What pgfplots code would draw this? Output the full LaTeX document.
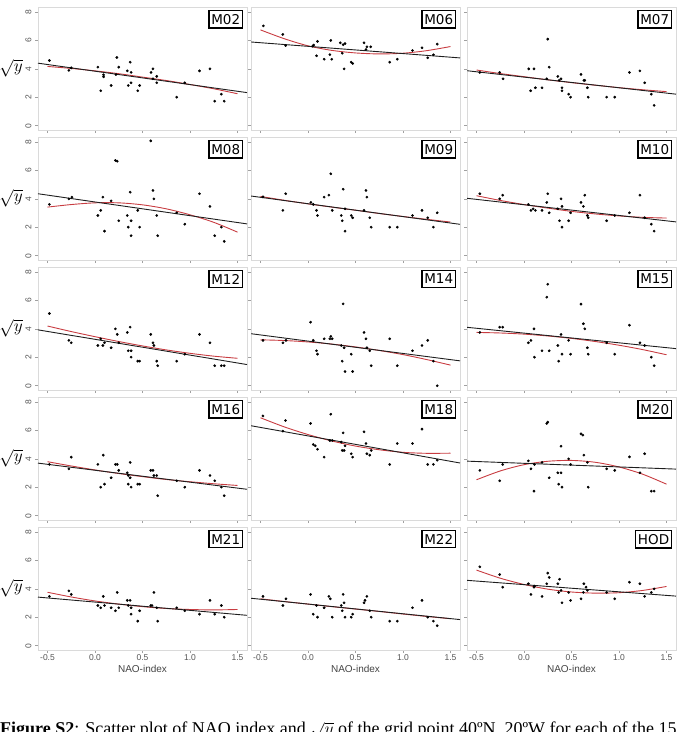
\documentclass[border=0pt]{standalone}
\usepackage{fontspec}
\setmainfont{Liberation Sans}
\newfontfamily\boxfont{DejaVu Sans}
\newfontfamily\capfont{Liberation Serif}
\usepackage{pgfplots}
\pgfplotsset{compat=1.18}

\definecolor{framegray}{RGB}{218,218,218}
\definecolor{tickgray}{RGB}{160,160,160}
\definecolor{labgray}{RGB}{85,85,85}
\definecolor{fitred}{RGB}{200,60,65}
\definecolor{fitblack}{RGB}{30,30,30}

\pgfplotsset{
  panel/.style={
    scale only axis, width=209pt, height=123pt,
    anchor=north west,
    xmin=-0.6, xmax=1.6, ymin=-0.3, ymax=8.35,
    axis line style={framegray, line width=0.8pt},
    xtick={-0.5,0,0.5,1,1.5}, ytick={0,2,4,6,8},
    xticklabels={}, yticklabels={},
    tick pos=left, tick align=outside,
    major tick length=3pt,
    tick style={tickgray, line width=0.6pt},
    /pgf/number format/assume math mode=true,
  },
  leftcol/.style={
    yticklabels={0,2,4,6,8},
    yticklabel style={rotate=90, anchor=south, text=labgray,
      font=\fontsize{8.5}{9}\selectfont},
    ylabel={$\sqrt{y}$},
    every axis y label/.style={at={(axis description cs:0,0.5)},
      anchor=center, xshift=-27pt, font=\fontsize{17}{19}\selectfont},
  },
  bottomrow/.style={
    xticklabels={-0.5,0.0,0.5,1.0,1.5},
    xticklabel style={text=labgray, inner sep=1pt,
      font=\fontsize{8.5}{9}\selectfont},
    xlabel={NAO-index},
    every axis x label/.style={at={(axis description cs:0.5,0)},
      anchor=center, yshift=-18.5pt, text=labgray!80!black,
      font=\fontsize{10}{12}\selectfont},
  },
  linfit/.style={fitblack, line width=0.9pt, no marks},
  quadfit/.style={fitred, line width=0.9pt, no marks, smooth},
  dots/.style={only marks, mark=*, mark size=1.15pt, black},
}
\tikzset{
  plab/.style={draw=black, line width=1.1pt, fill=white, inner xsep=2.3pt,
    inner ysep=3.6pt, anchor=north east, xshift=-4pt, yshift=-3pt,
    font=\boxfont\fontsize{13.5}{14}\selectfont},
}

\begin{document}
\begin{tikzpicture}

% ---------------- row 1 ----------------
\begin{axis}[panel, leftcol, at={(38pt,-7pt)}]
  \addplot[dots] coordinates {(-0.48,4.59) (-0.275,3.89) (-0.25,4.07) (0.03,4.12) (0.06,2.46) (0.09,3.58) (0.09,3.44) (0.17,2.83) (0.22,3.60) (0.23,4.80) (0.25,4.12) (0.34,3.86) (0.35,2.83) (0.37,4.47) (0.38,3.75) (0.38,3.02) (0.45,2.46) (0.47,2.83) (0.59,3.75) (0.61,4.00) (0.61,3.30) (0.65,3.47) (0.65,3.02) (0.86,2.01) (0.945,3.02) (1.10,3.86) (1.21,4.00) (1.26,1.73) (1.33,2.22) (1.36,1.73)};
  \addplot[quadfit] coordinates {(-0.5,4.17) (-0.25,4.03) (0,3.86) (0.25,3.66) (0.5,3.42) (0.75,3.18) (1.0,2.90) (1.25,2.60) (1.5,2.25)};
  \addplot[linfit] coordinates {(-0.6,4.40) (1.6,2.33)};
  \node[plab] at (rel axis cs:1,1) {M02};
\end{axis}

\begin{axis}[panel, at={(251pt,-7pt)}]
  \addplot[dots] coordinates {(-0.47,7.02) (-0.265,6.42) (-0.235,5.64) (0.05,5.60) (0.06,5.67) (0.10,5.93) (0.09,4.92) (0.17,4.68) (0.23,5.00) (0.24,6.00) (0.25,4.68) (0.34,5.83) (0.36,5.10) (0.37,5.70) (0.39,5.78) (0.38,4.00) (0.455,4.47) (0.47,4.38) (0.59,5.83) (0.61,5.36) (0.62,5.55) (0.66,5.55) (0.86,4.47) (0.94,4.68) (1.10,5.29) (1.20,5.48) (1.26,4.78) (1.32,4.99) (1.36,5.74)};
  \addplot[quadfit] coordinates {(-0.5,6.74) (-0.25,6.12) (0,5.62) (0.25,5.30) (0.5,5.12) (0.75,5.05) (1.0,5.10) (1.25,5.28) (1.5,5.57)};
  \addplot[linfit] coordinates {(-0.6,5.89) (1.6,4.77)};
  \node[plab] at (rel axis cs:1,1) {M06};
\end{axis}

\begin{axis}[panel, at={(467pt,-7pt)}]
  \addplot[dots] coordinates {(-0.465,3.75) (-0.256,3.75) (-0.22,3.30) (0.05,4.00) (0.07,2.46) (0.105,4.00) (0.12,2.67) (0.19,2.67) (0.24,3.30) (0.25,6.09) (0.265,4.12) (0.356,3.47) (0.37,3.19) (0.39,3.30) (0.40,2.67) (0.40,2.46) (0.47,2.22) (0.49,2.01) (0.60,3.61) (0.63,3.19) (0.64,3.19) (0.667,2.67) (0.676,2.01) (0.87,2.01) (0.955,2.01) (1.11,3.75) (1.22,3.86) (1.27,3.02) (1.34,2.22) (1.37,1.43)};
  \addplot[quadfit] coordinates {(-0.5,3.92) (-0.25,3.67) (0,3.45) (0.25,3.23) (0.5,3.03) (0.75,2.85) (1.0,2.68) (1.25,2.53) (1.5,2.40)};
  \addplot[linfit] coordinates {(-0.6,3.87) (1.6,2.22)};
  \node[plab] at (rel axis cs:1,1) {M07};
\end{axis}

% ---------------- row 2 ----------------
\begin{axis}[panel, leftcol, at={(38pt,-137pt)}]
  \addplot[dots] coordinates {(-0.48,3.61) (-0.275,4.00) (-0.243,4.12) (0.03,2.83) (0.06,3.19) (0.083,4.12) (0.10,1.73) (0.17,3.86) (0.215,6.70) (0.234,6.65) (0.25,2.46) (0.34,2.83) (0.35,2.01) (0.37,4.47) (0.38,2.46) (0.38,1.41) (0.45,3.19) (0.47,2.01) (0.587,8.08) (0.61,4.59) (0.62,4.00) (0.65,2.83) (0.66,1.41) (0.86,3.02) (0.945,2.22) (1.10,4.36) (1.21,3.47) (1.26,1.41) (1.33,2.01) (1.36,1.01)};
  \addplot[quadfit] coordinates {(-0.5,3.42) (-0.25,3.60) (0,3.72) (0.25,3.72) (0.5,3.58) (0.75,3.30) (1.0,2.88) (1.25,2.35) (1.5,1.66)};
  \addplot[linfit] coordinates {(-0.6,4.36) (1.6,2.24)};
  \node[plab] at (rel axis cs:1,1) {M08};
\end{axis}

\begin{axis}[panel, at={(251pt,-137pt)}]
  \addplot[dots] coordinates {(-0.474,4.14) (-0.264,3.19) (-0.235,4.36) (0.03,3.75) (0.055,3.61) (0.09,3.19) (0.10,2.83) (0.17,4.12) (0.22,4.26) (0.24,5.76) (0.255,3.19) (0.35,2.83) (0.36,2.46) (0.37,4.68) (0.39,1.73) (0.39,3.30) (0.455,2.83) (0.47,2.67) (0.59,3.19) (0.61,4.59) (0.62,4.12) (0.65,2.67) (0.665,2.01) (0.86,2.01) (0.94,2.01) (1.10,2.83) (1.20,3.19) (1.26,2.67) (1.32,2.01) (1.36,3.02)};
  \addplot[quadfit] coordinates {(-0.5,4.17) (-0.25,3.90) (0,3.65) (0.25,3.42) (0.5,3.20) (0.75,2.97) (1.0,2.76) (1.25,2.56) (1.5,2.37)};
  \addplot[linfit] coordinates {(-0.6,4.20) (1.6,2.21)};
  \node[plab] at (rel axis cs:1,1) {M09};
\end{axis}

\begin{axis}[panel, at={(467pt,-137pt)}]
  \addplot[dots] coordinates {(-0.465,4.36) (-0.256,4.00) (-0.224,4.26) (0.046,3.61) (0.073,3.19) (0.096,3.30) (0.12,3.19) (0.19,3.19) (0.24,3.75) (0.25,4.36) (0.265,3.02) (0.356,3.30) (0.374,2.46) (0.39,4.00) (0.40,3.47) (0.40,2.01) (0.47,2.46) (0.49,3.02) (0.60,3.75) (0.625,3.47) (0.64,4.26) (0.667,2.83) (0.676,2.67) (0.87,2.46) (0.955,2.83) (1.11,3.02) (1.22,4.26) (1.27,2.67) (1.34,2.22) (1.37,1.73)};
  \addplot[quadfit] coordinates {(-0.5,4.22) (-0.25,3.89) (0,3.60) (0.25,3.35) (0.5,3.12) (0.75,2.94) (1.0,2.80) (1.25,2.70) (1.5,2.65)};
  \addplot[linfit] coordinates {(-0.6,4.04) (1.6,2.38)};
  \node[plab] at (rel axis cs:1,1) {M10};
\end{axis}

% ---------------- row 3 ----------------
\begin{axis}[panel, leftcol, at={(38pt,-267pt)}]
  \addplot[dots] coordinates {(-0.48,5.08) (-0.275,3.19) (-0.25,3.02) (0.03,2.83) (0.06,3.30) (0.083,2.83) (0.10,3.02) (0.17,2.67) (0.215,4.00) (0.234,3.61) (0.25,3.02) (0.34,3.75) (0.35,2.46) (0.37,4.12) (0.38,2.46) (0.38,2.01) (0.45,1.73) (0.47,1.73) (0.587,3.61) (0.61,3.02) (0.62,2.83) (0.65,1.73) (0.66,1.41) (0.86,1.73) (0.945,2.22) (1.10,3.61) (1.21,3.02) (1.26,1.41) (1.33,1.41) (1.36,1.41)};
  \addplot[quadfit] coordinates {(-0.5,4.20) (-0.25,3.81) (0,3.45) (0.25,3.11) (0.5,2.80) (0.75,2.52) (1.0,2.28) (1.25,2.08) (1.5,1.93)};
  \addplot[linfit] coordinates {(-0.6,3.93) (1.6,1.49)};
  \node[plab] at (rel axis cs:1,1) {M12};
\end{axis}

\begin{axis}[panel, at={(251pt,-267pt)}]
  \addplot[dots] coordinates {(-0.474,3.19) (-0.264,3.02) (-0.232,3.19) (0.027,4.47) (0.055,3.19) (0.09,2.46) (0.10,2.22) (0.17,3.30) (0.23,3.30) (0.24,3.47) (0.255,3.30) (0.35,2.83) (0.36,1.73) (0.37,5.76) (0.38,2.67) (0.39,1.00) (0.455,2.22) (0.47,1.00) (0.59,3.75) (0.61,3.30) (0.62,2.67) (0.65,2.46) (0.665,1.41) (0.86,3.30) (0.94,1.41) (1.10,2.46) (1.20,2.83) (1.26,3.19) (1.32,1.73) (1.36,0.00)};
  \addplot[quadfit] coordinates {(-0.5,3.23) (-0.25,3.18) (0,3.08) (0.25,2.93) (0.5,2.73) (0.75,2.48) (1.0,2.19) (1.25,1.84) (1.5,1.45)};
  \addplot[linfit] coordinates {(-0.6,3.66) (1.6,1.75)};
  \node[plab] at (rel axis cs:1,1) {M14};
\end{axis}

\begin{axis}[panel, at={(467pt,-267pt)}]
  \addplot[dots] coordinates {(-0.465,3.75) (-0.256,4.12) (-0.224,4.12) (0.046,3.02) (0.073,3.19) (0.105,4.00) (0.11,2.01) (0.19,2.46) (0.24,6.23) (0.25,7.14) (0.265,2.46) (0.356,2.83) (0.365,1.73) (0.39,3.61) (0.40,2.22) (0.47,3.19) (0.49,2.22) (0.60,5.74) (0.625,4.36) (0.64,4.00) (0.667,2.67) (0.676,2.22) (0.87,3.02) (0.955,2.22) (1.11,4.26) (1.22,3.02) (1.27,2.83) (1.34,2.01) (1.37,1.41)};
  \addplot[quadfit] coordinates {(-0.5,3.75) (-0.25,3.71) (0,3.63) (0.25,3.50) (0.5,3.33) (0.75,3.11) (1.0,2.85) (1.25,2.54) (1.5,2.18)};
  \addplot[linfit] coordinates {(-0.6,4.11) (1.6,2.61)};
  \node[plab] at (rel axis cs:1,1) {M15};
\end{axis}

% ---------------- row 4 ----------------
\begin{axis}[panel, leftcol, at={(38pt,-397pt)}]
  \addplot[dots] coordinates {(-0.48,3.61) (-0.275,3.30) (-0.25,4.12) (0.03,3.61) (0.06,2.01) (0.087,4.26) (0.10,2.22) (0.17,2.67) (0.215,3.61) (0.234,3.61) (0.25,3.19) (0.34,3.02) (0.35,2.83) (0.35,2.22) (0.37,3.75) (0.37,2.67) (0.38,2.01) (0.45,2.22) (0.47,2.22) (0.587,3.19) (0.61,3.19) (0.62,2.83) (0.65,2.83) (0.66,1.41) (0.86,2.46) (0.945,2.01) (1.10,3.19) (1.21,2.83) (1.26,2.46) (1.33,2.01) (1.36,1.41)};
  \addplot[quadfit] coordinates {(-0.5,3.80) (-0.25,3.50) (0,3.22) (0.25,2.97) (0.5,2.75) (0.75,2.55) (1.0,2.39) (1.25,2.25) (1.5,2.13)};
  \addplot[linfit] coordinates {(-0.6,3.70) (1.6,1.86)};
  \node[plab] at (rel axis cs:1,1) {M16};
\end{axis}

\begin{axis}[panel, at={(251pt,-397pt)}]
  \addplot[dots] coordinates {(-0.474,7.02) (-0.264,5.95) (-0.237,6.70) (0.027,6.49) (0.055,5.01) (0.077,4.92) (0.10,4.68) (0.17,4.12) (0.23,5.29) (0.24,7.14) (0.255,5.29) (0.35,5.18) (0.36,4.59) (0.37,5.83) (0.38,4.59) (0.39,4.92) (0.455,4.36) (0.47,4.12) (0.59,5.90) (0.61,5.08) (0.62,4.36) (0.65,4.26) (0.665,4.59) (0.86,3.61) (0.94,5.08) (1.10,5.08) (1.20,6.09) (1.26,3.61) (1.32,3.61) (1.36,3.91)};
  \addplot[quadfit] coordinates {(-0.5,6.89) (-0.25,6.25) (0,5.71) (0.25,5.26) (0.5,4.90) (0.75,4.64) (1.0,4.46) (1.25,4.39) (1.5,4.40)};
  \addplot[linfit] coordinates {(-0.6,6.33) (1.6,3.71)};
  \node[plab] at (rel axis cs:1,1) {M18};
\end{axis}

\begin{axis}[panel, at={(467pt,-397pt)}]
  \addplot[dots] coordinates {(-0.465,3.19) (-0.256,2.46) (-0.224,3.61) (0.046,3.86) (0.073,3.30) (0.105,1.73) (0.11,3.61) (0.19,3.75) (0.24,6.49) (0.25,6.58) (0.265,2.67) (0.356,3.02) (0.365,2.22) (0.39,4.89) (0.39,3.02) (0.40,2.01) (0.47,4.00) (0.49,3.61) (0.60,5.76) (0.62,5.67) (0.63,4.26) (0.667,3.75) (0.676,2.01) (0.87,3.30) (0.955,3.19) (1.11,4.14) (1.22,3.02) (1.27,4.36) (1.34,1.73) (1.37,1.73)};
  \addplot[quadfit] coordinates {(-0.5,2.53) (-0.25,3.15) (0,3.59) (0.25,3.83) (0.5,3.89) (0.75,3.76) (1.0,3.43) (1.25,2.92) (1.5,2.22)};
  \addplot[linfit] coordinates {(-0.6,3.84) (1.6,3.28)};
  \node[plab] at (rel axis cs:1,1) {M20};
\end{axis}

% ---------------- row 5 ----------------
\begin{axis}[panel, leftcol, bottomrow, at={(38pt,-527pt)}]
  \addplot[dots] coordinates {(-0.48,3.47) (-0.275,3.86) (-0.25,3.61) (0.03,2.83) (0.06,2.67) (0.087,3.47) (0.10,2.83) (0.17,2.67) (0.215,2.46) (0.234,3.75) (0.25,2.67) (0.34,3.19) (0.35,2.83) (0.37,3.19) (0.38,2.67) (0.38,2.22) (0.45,1.73) (0.47,2.46) (0.587,2.83) (0.60,2.83) (0.62,3.75) (0.65,2.67) (0.66,1.73) (0.86,2.67) (0.945,2.46) (1.10,2.22) (1.21,3.19) (1.26,2.22) (1.33,2.83) (1.36,2.01)};
  \addplot[quadfit] coordinates {(-0.5,3.76) (-0.25,3.43) (0,3.15) (0.25,2.93) (0.5,2.75) (0.75,2.62) (1.0,2.55) (1.25,2.52) (1.5,2.55)};
  \addplot[linfit] coordinates {(-0.6,3.42) (1.6,2.14)};
  \node[plab] at (rel axis cs:1,1) {M21};
\end{axis}

\begin{axis}[panel, bottomrow, at={(251pt,-527pt)}]
  \addplot[dots] coordinates {(-0.474,3.47) (-0.264,2.83) (-0.232,3.30) (0.027,3.61) (0.055,2.22) (0.09,2.83) (0.10,2.01) (0.17,2.67) (0.22,3.47) (0.235,3.30) (0.255,2.01) (0.35,2.83) (0.36,2.46) (0.37,3.61) (0.38,3.02) (0.39,2.01) (0.455,2.01) (0.47,2.22) (0.59,3.02) (0.60,3.19) (0.62,3.47) (0.65,2.46) (0.665,2.01) (0.86,1.73) (0.94,1.73) (1.10,2.67) (1.20,3.19) (1.26,2.01) (1.32,1.73) (1.36,1.41)};
  \addplot[quadfit] coordinates {(-0.5,3.30) (-0.25,3.11) (0,2.93) (0.25,2.75) (0.5,2.58) (0.75,2.41) (1.0,2.23) (1.25,2.06) (1.5,1.90)};
  \addplot[linfit] coordinates {(-0.6,3.34) (1.6,1.84)};
  \node[plab] at (rel axis cs:1,1) {M22};
\end{axis}

\begin{axis}[panel, bottomrow, at={(467pt,-527pt)}]
  \addplot[dots] coordinates {(-0.465,5.55) (-0.256,5.01) (-0.224,4.12) (0.046,4.36) (0.073,3.61) (0.105,4.12) (0.11,4.19) (0.19,3.47) (0.24,4.36) (0.25,5.11) (0.265,4.80) (0.356,4.36) (0.365,3.75) (0.374,4.68) (0.39,3.89) (0.40,3.02) (0.47,3.75) (0.49,3.19) (0.60,3.30) (0.625,3.75) (0.63,4.36) (0.653,4.12) (0.667,3.89) (0.87,3.75) (0.955,3.30) (1.11,4.47) (1.22,4.36) (1.27,3.47) (1.34,3.75) (1.37,4.00)};
  \addplot[quadfit] coordinates {(-0.5,5.32) (-0.25,4.75) (0,4.31) (0.25,3.98) (0.5,3.78) (0.75,3.70) (1.0,3.73) (1.25,3.89) (1.5,4.17)};
  \addplot[linfit] coordinates {(-0.6,4.60) (1.6,3.49)};
  \node[plab] at (rel axis cs:1,1) {HOD};
\end{axis}

% caption line below the panels
\node[anchor=base west, inner sep=0pt, font=\capfont\fontsize{18}{20}\selectfont]
  at (0pt,-734pt) {\textbf{Figure S2}: Scatter plot of NAO index and $\sqrt{y}$ of the grid point 40ºN, 20ºW for each of the 15};

\pgfresetboundingbox
\path[use as bounding box] (0pt,0pt) rectangle (681pt,-732pt);
\end{tikzpicture}
\end{document}
